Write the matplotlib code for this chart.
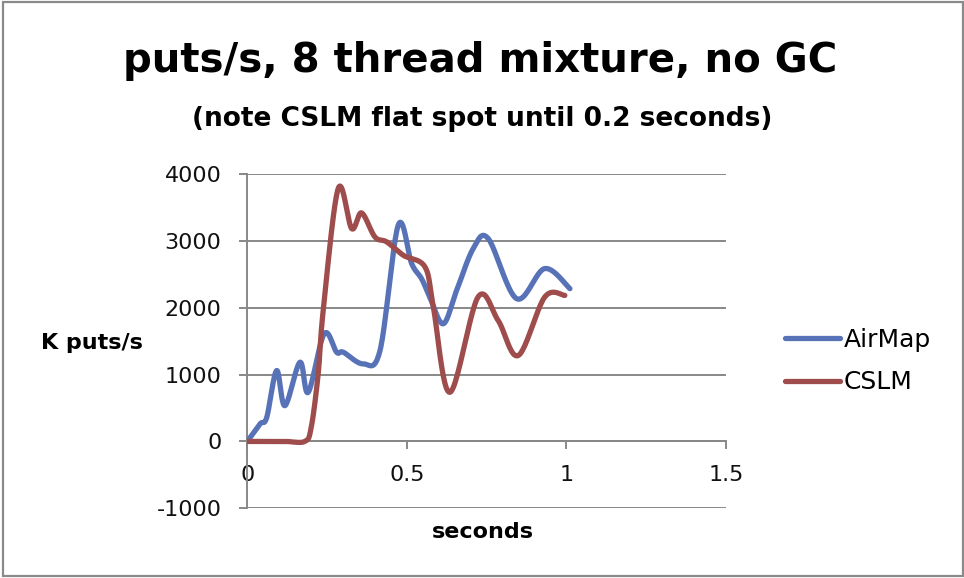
import numpy as np
import matplotlib
matplotlib.use("Agg")
import matplotlib.pyplot as plt
from matplotlib.patches import Rectangle

plt.rcParams["font.family"] = ["DejaVu Sans"]
plt.rcParams["axes.unicode_minus"] = False

# throughput samples (seconds, K puts/s)
airmap_t = [0.0, 0.040, 0.061, 0.092, 0.118, 0.165, 0.191, 0.241, 0.280, 0.301,
            0.363, 0.416, 0.473, 0.515, 0.546, 0.572, 0.614, 0.656, 0.708, 0.755,
            0.844, 0.932, 1.011]
airmap_v = [0, 261, 360, 1060, 535, 1184, 735, 1610, 1334, 1334,
            1160, 1360, 3234, 2660, 2435, 2159, 1760, 2259, 2884, 3034,
            2135, 2585, 2285]

cslm_t = [0.0, 0.06, 0.12, 0.18, 0.200, 0.222, 0.238, 0.285, 0.327, 0.358,
          0.400, 0.437, 0.489, 0.557, 0.583, 0.635, 0.723, 0.786, 0.849,
          0.932, 0.995]
cslm_v = [0, 0, 0, 0, 200, 1000, 1960, 3784, 3184, 3418,
          3058, 2984, 2784, 2609, 2009, 735, 2159, 1810, 1285,
          2159, 2184]

series_names = ["AirMap", "CSLM"]
series_colors = ["#5872B8", "#9E4C4C"]
grid_color = "#888888"


def smooth(xs, ys, steps=24):
    # spreadsheet-style smoothed line: cubic bezier between each pair of points
    xs = np.asarray(xs, float)
    ys = np.asarray(ys, float)
    px = np.concatenate([[xs[0]], xs, [xs[-1]]])
    py = np.concatenate([[ys[0]], ys, [ys[-1]]])
    out_x, out_y = [], []
    s = np.linspace(0, 1, steps)
    for i in range(1, len(px) - 2):
        x0, y0 = px[i], py[i]
        x3, y3 = px[i + 1], py[i + 1]
        x1 = x0 + (px[i + 1] - px[i - 1]) / 6
        y1 = y0 + (py[i + 1] - py[i - 1]) / 6
        x2 = x3 - (px[i + 2] - px[i]) / 6
        y2 = y3 - (py[i + 2] - py[i]) / 6
        b0 = (1 - s) ** 3
        b1 = 3 * s * (1 - s) ** 2
        b2 = 3 * s ** 2 * (1 - s)
        b3 = s ** 3
        out_x.extend(b0 * x0 + b1 * x1 + b2 * x2 + b3 * x3)
        out_y.extend(b0 * y0 + b1 * y1 + b2 * y2 + b3 * y3)
    return np.array(out_x), np.array(out_y)


fig = plt.figure(figsize=(9.64, 5.78), dpi=100)
ax = fig.add_axes([0.2565, 0.1206, 0.4966, 0.5784])

for (t, v), name, color in zip([(airmap_t, airmap_v), (cslm_t, cslm_v)],
                               series_names, series_colors):
    sx, sy = smooth(t, v)
    ax.plot(sx, sy, color=color, lw=3.8, solid_capstyle="round",
            solid_joinstyle="round", label=name, zorder=3)

ax.set_xlim(0, 1.5)
ax.set_ylim(-1000, 4000)
ax.set_xticks([0, 0.5, 1, 1.5])
ax.set_xticklabels(["0", "0.5", "1", "1.5"])
ax.set_yticks([-1000, 0, 1000, 2000, 3000, 4000])

ax.grid(axis="y", color=grid_color, lw=1.4)
ax.set_axisbelow(True)
for side in ["top", "right"]:
    ax.spines[side].set_visible(False)
ax.spines["bottom"].set_position(("data", 0))
for side in ["left", "bottom"]:
    ax.spines[side].set_color(grid_color)
    ax.spines[side].set_linewidth(1.4)

ax.tick_params(axis="y", direction="out", length=6, width=1.4, color=grid_color,
               pad=12.5, labelsize=16, labelcolor="#111111")
ax.tick_params(axis="x", direction="out", length=6, width=1.4, color=grid_color,
               pad=11, labelsize=16, labelcolor="#111111")

fig.text(0.498, 1 - 72 / 578, "puts/s, 8 thread mixture, no GC", ha="center",
         va="baseline", fontsize=29, fontweight="bold")
fig.text(0.5005, 1 - 126 / 578, "(note CSLM flat spot until 0.2 seconds)", ha="center",
         va="baseline", fontsize=19, fontweight="bold")
fig.text(0.0951, 1 - 343 / 578, "K puts/s", ha="center", va="center",
         fontsize=16, fontweight="bold")
fig.text(0.5005, 1 - 532 / 578, "seconds", ha="center", va="center",
         fontsize=16, fontweight="bold")

ax.legend(loc="center left", bbox_to_anchor=(785 / 964, 1 - 361 / 578),
          bbox_transform=fig.transFigure, frameon=False, fontsize=18,
          handlelength=2.2, handletextpad=0.15, labelspacing=0.75,
          borderpad=0, borderaxespad=0)

# outer chart frame
fig.patches.append(Rectangle((3 / 964, 2 / 578), 960 / 964, 574 / 578,
                             transform=fig.transFigure, fill=False,
                             edgecolor="#8a8a8a", lw=1.6))

fig.savefig("out.png", dpi=100)
